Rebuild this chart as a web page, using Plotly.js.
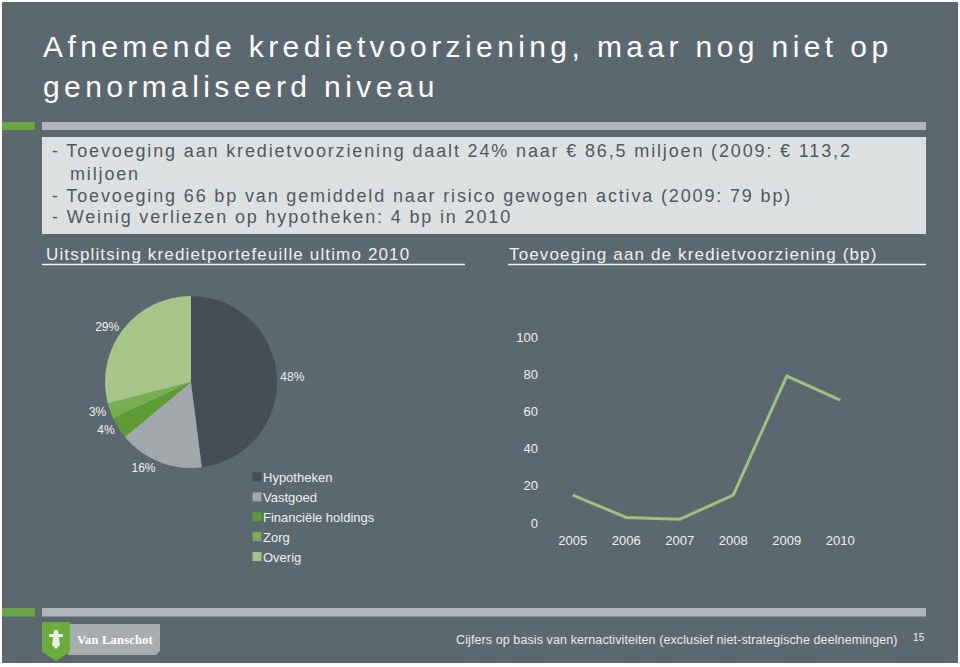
<!DOCTYPE html>
<html>
<head>
<meta charset="utf-8">
<script src="https://cdn.plot.ly/plotly-3.0.1.min.js"></script>
<style>
html,body{margin:0;padding:0;background:#ffffff;}
#chart{width:960px;height:667px;}
path.legendpie{transform:translate(34px,0px) scale(0.75);}
</style>
<style id="ls"></style>
</head>
<body>
<div id="chart"></div>
<script>
// ---- data ----
const pieLabels = ['Hypotheken', 'Vastgoed', 'Financiële holdings', 'Zorg', 'Overig'];
const pieValues = [48, 16, 4, 3, 29];
const pieColors = ['#454e56', '#a2a7ab', '#5d9c33', '#79ad52', '#a5c686'];

const years = ['2005', '2006', '2007', '2008', '2009', '2010'];
const provisionBp = [15, 3, 2, 15, 79, 66];

const titleLines = ['Afnemende kredietvoorziening, maar nog niet op', 'genormaliseerd niveau'];
const bulletLines = [
  '- Toevoeging aan kredietvoorziening daalt 24% naar € 86,5 miljoen (2009: € 113,2',
  'miljoen',
  '- Toevoeging 66 bp van gemiddeld naar risico gewogen activa (2009: 79 bp)',
  '- Weinig verliezen op hypotheken: 4 bp in 2010'
];
const pieHeader = 'Uitsplitsing kredietportefeuille ultimo 2010';
const lineHeader = 'Toevoeging aan de kredietvoorziening (bp)';
const footerText = 'Cijfers op basis van kernactiviteiten (exclusief niet-strategische deelnemingen)';
const pageNumber = '15';
const logoText = 'Van Lanschot';

// ---- helpers ----
const W = 960, H = 667;
const px = x => x / W;
const py = y => 1 - y / H;
const FONT = '"Liberation Sans", Arial, sans-serif';
const BG = '#5c6870';

function rect(x0, y0, x1, y1, color) {
  return {type: 'rect', xref: 'paper', yref: 'paper', x0: px(x0), x1: px(x1), y0: py(y1), y1: py(y0),
          fillcolor: color, line: {width: 0}, layer: 'below'};
}
function hline(x0, x1, y, color, w) {
  return {type: 'line', xref: 'paper', yref: 'paper', x0: px(x0), x1: px(x1), y0: py(y), y1: py(y),
          line: {color: color, width: w}, layer: 'below'};
}
function pathShape(pts, color) {
  let d = pts.map((p, i) => (i ? 'L' : 'M') + px(p[0]).toFixed(5) + ',' + py(p[1]).toFixed(5)).join(' ') + ' Z';
  return {type: 'path', xref: 'paper', yref: 'paper', path: d, fillcolor: color, line: {width: 0}, layer: 'below'};
}

const shapes = [
  rect(2, 2, 958, 663, BG),
  rect(2, 122, 35, 130, '#67a545'),
  rect(42, 122, 926, 130, '#b3b6b9'),
  rect(42, 137, 926, 234, '#dde0e1'),
  hline(42, 465, 264.5, '#f2f3f3', 1.6),
  hline(508, 926, 264.5, '#f2f3f3', 1.6),
  rect(2, 608, 35, 616.5, '#67a545'),
  rect(42, 608, 926, 616.5, '#b3b6b9'),
  // logo tab
  pathShape([[68, 624], [160, 624], [160, 651], [156, 655], [68, 655]], '#a9acaf'),
  // logo shield
  pathShape([[42, 622], [70, 622], [70, 652], [56, 661], [42, 652]], '#6aab3a'),
  pathShape([[54, 630], [58, 630], [60, 645], [56, 649], [52, 645]], '#e8efe0'),
  pathShape([[49, 634], [63, 634], [63, 637], [49, 637]], '#e8efe0')
];

const annotations = [];
const spacing = [];
function txt(text, x, y, size, color, ls, opts) {
  annotations.push(Object.assign({text: text, xref: 'paper', yref: 'paper', x: px(x), y: py(y),
    xanchor: 'left', yanchor: 'middle', showarrow: false, align: 'left',
    font: {family: FONT, size: size, color: color}}, opts || {}));
  spacing.push(ls);
}
txt(titleLines[0], 41, 46.5, 30, '#ffffff', 4.4);
txt(titleLines[1], 41, 86, 30, '#ffffff', 4.4);
txt(bulletLines[0], 50, 151.5, 18, '#50585f', 1.85);
txt(bulletLines[1], 68, 174.5, 18, '#50585f', 1.85);
txt(bulletLines[2], 50, 196, 18, '#50585f', 1.85);
txt(bulletLines[3], 50, 216.5, 18, '#50585f', 1.85);
txt(pieHeader, 44, 254, 17, '#eef0f1', 1.15);
txt(lineHeader, 507, 254, 17, '#eef0f1', 1.15);
txt(footerText, 454, 640, 12.5, '#e9ebec', 0.1);
txt(pageNumber, 911, 637, 10, '#e9ebec', 0.3);
txt('<b>' + logoText + '</b>', 114, 639.5, 12.5, '#ffffff', 0.2,
    {xanchor: 'center', font: {family: '"Liberation Serif", "DejaVu Serif", serif', size: 12.5, color: '#ffffff'}});

document.getElementById('ls').textContent = spacing.map((s, i) =>
  'g.annotation[data-index="' + i + '"] text{letter-spacing:' + s + 'px;}').join('\n');

const pieTrace = {
  type: 'pie',
  labels: pieLabels,
  values: pieValues,
  sort: false,
  direction: 'clockwise',
  rotation: 0,
  marker: {colors: pieColors, line: {width: 0}},
  textposition: 'outside',
  texttemplate: '%{percent:.0%}',
  outsidetextfont: {family: FONT, size: 12, color: '#eef0f1'},
  hoverinfo: 'none',
  domain: {x: [px(105), px(277)], y: [py(468), py(296)]},
  showlegend: true
};

const lineTrace = {
  type: 'scatter',
  mode: 'lines',
  x: years,
  y: provisionBp,
  line: {color: '#9dc27c', width: 3},
  hoverinfo: 'none',
  showlegend: false,
  xaxis: 'x',
  yaxis: 'y'
};

const layout = {
  width: W, height: H,
  margin: {l: 0, r: 0, t: 0, b: 0},
  paper_bgcolor: '#ffffff',
  plot_bgcolor: 'rgba(0,0,0,0)',
  font: {family: FONT, color: '#eceeef'},
  xaxis: {
    domain: [px(546), px(867)], anchor: 'y', type: 'category', range: [-0.5, 5.5],
    showgrid: false, zeroline: false, showline: false, ticks: '',
    tickfont: {family: FONT, size: 13, color: '#eceeef'}, ticklabelstandoff: 8, fixedrange: true
  },
  yaxis: {
    domain: [py(523), py(337)], anchor: 'x', range: [0, 100], dtick: 20, tick0: 0,
    showgrid: false, zeroline: false, showline: false, ticks: '',
    tickfont: {family: FONT, size: 13, color: '#eceeef'}, ticklabelstandoff: 7, fixedrange: true
  },
  legend: {
    x: px(223), y: py(462), xanchor: 'left', yanchor: 'top', orientation: 'v',
    bgcolor: 'rgba(0,0,0,0)', font: {family: FONT, size: 13, color: '#eceeef'},
    itemclick: false, itemdoubleclick: false
  },
  shapes: shapes,
  annotations: annotations
};

Plotly.newPlot('chart', [pieTrace, lineTrace], layout, {displayModeBar: false, staticPlot: true});
</script>
</body>
</html>
